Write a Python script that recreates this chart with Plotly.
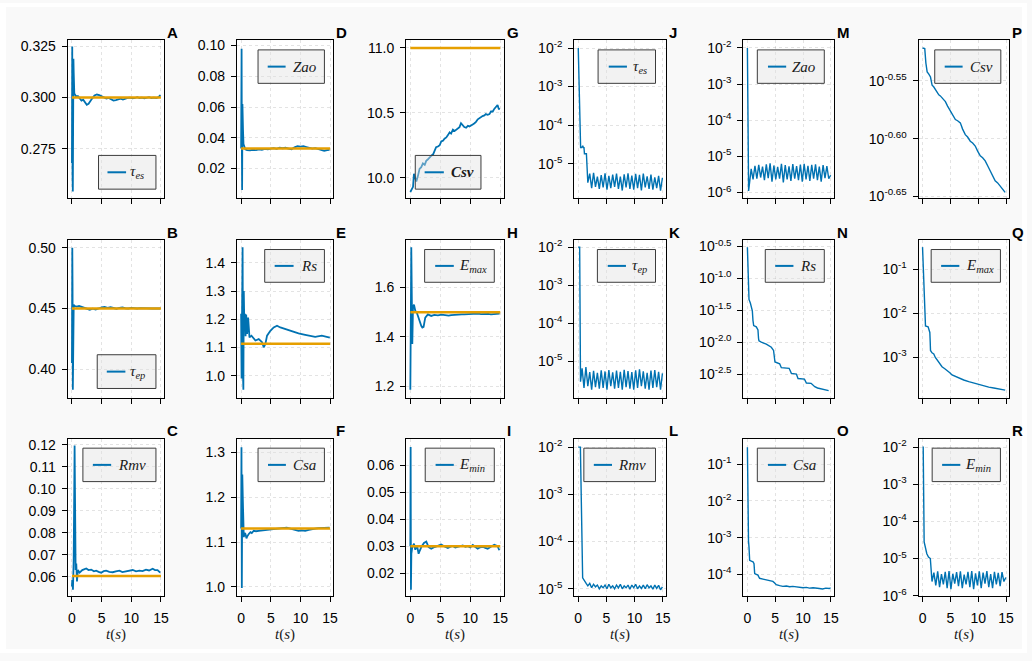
import plotly.graph_objects as go

W, H = 1032, 661
BLUE = "#0072B2"
ORANGE = "#E69F00"

# ---------------- data ----------------
t_osc = [0.68, 1.02, 1.36, 1.70, 2.04, 2.38, 2.72, 3.06, 3.40, 3.74,
         4.08, 4.42, 4.76, 5.10, 5.44, 5.78, 6.12, 6.46, 6.80, 7.14,
         7.48, 7.82, 8.16, 8.50, 8.84, 9.18, 9.52, 9.86, 10.20, 10.54,
         10.88, 11.22, 11.56, 11.90, 12.24, 12.58, 12.92, 13.26, 13.60, 13.94,
         14.28, 14.62, 14.96]

param_labels = ["<i>τ<sub>es</sub></i>", "<i>τ<sub>ep</sub></i>", "<i>Rmv</i>",
                "<i>Zao</i>", "<i>Rs</i>", "<i>Csa</i>",
                "<b><i>Csv</i></b>", "<i>E<sub>max</sub></i>", "<i>E<sub>min</sub></i>"]
err_labels = ["<i>τ<sub>es</sub></i>", "<i>τ<sub>ep</sub></i>", "<i>Rmv</i>",
              "<i>Zao</i>", "<i>Rs</i>", "<i>Csa</i>",
              "<i>Csv</i>", "<i>E<sub>max</sub></i>", "<i>E<sub>min</sub></i>"]
truth = [0.30, 0.45, 0.0603, 0.033, 1.113, 1.13, 11.0, 1.50, 0.030]
truth_t = [0, 15]

A_t = [0, 0.05, 0.1, 0.15, 0.2, 0.25, 0.3, 0.4, 0.5, 0.7,
       1.0, 1.3, 1.6, 1.9, 2.2, 2.5, 2.8, 3.1, 3.4, 3.8,
       4.2, 4.6, 5.0, 5.4, 5.8, 6.2, 6.6, 7.0, 7.4, 7.8,
       8.2, 8.6, 9.0, 9.4, 9.8, 10.2, 10.6, 11.0, 11.4, 11.8,
       12.2, 12.6, 13.0, 13.4, 13.8, 14.2, 14.6, 14.9]
A_y = [0.268, 0.325, 0.262, 0.254, 0.305, 0.319, 0.312, 0.302, 0.3015, 0.3005,
       0.3008, 0.2995, 0.2985, 0.2990, 0.2975, 0.2965, 0.2970, 0.2985, 0.2995, 0.3010,
       0.3015, 0.3012, 0.3005, 0.3000, 0.2995, 0.2998, 0.2990, 0.2985, 0.2988, 0.2992,
       0.2995, 0.2990, 0.2995, 0.2998, 0.3000, 0.2996, 0.2998, 0.3002, 0.2998, 0.3000,
       0.2996, 0.3000, 0.3002, 0.2998, 0.3000, 0.2998, 0.3002, 0.3012]

B_t = [0, 0.06, 0.1, 0.15, 0.2, 0.3, 0.5, 0.8, 1.2, 1.6,
       2.0, 2.5, 3.0, 3.5, 4.0, 4.5, 5.0, 5.5, 6.0, 6.5,
       7.0, 7.5, 8.0, 8.5, 9.0, 9.5, 10.0, 10.5, 11.0, 11.5,
       12.0, 12.5, 13.0, 13.5, 14.0, 14.5, 14.9]
B_y = [0.405, 0.500, 0.470, 0.383, 0.440, 0.453, 0.452, 0.4515, 0.452, 0.4512,
       0.4505, 0.4495, 0.4490, 0.4498, 0.4492, 0.4500, 0.4510, 0.4512, 0.4505, 0.4510,
       0.4502, 0.4498, 0.4505, 0.4508, 0.4502, 0.4500, 0.4505, 0.4502, 0.4500, 0.4503,
       0.4501, 0.4500, 0.4502, 0.4500, 0.4501, 0.4500, 0.4500]

C_t = [0, 0.05, 0.17, 0.29, 0.45, 0.55, 0.62, 0.73, 0.85, 1.01,
       1.29, 1.74, 2.1, 2.41, 2.8, 3.25, 3.7, 4.09, 4.5, 4.93,
       5.35, 5.77, 6.3, 6.88, 7.4, 8.0, 8.5, 9.12, 9.7, 10.24,
       10.8, 11.36, 11.9, 12.48, 13.0, 13.6, 14.0, 14.43, 14.88]
C_y = [0.0555, 0.0585, 0.054, 0.0674, 0.1197, 0.075, 0.063, 0.066, 0.0578, 0.063,
       0.0618, 0.063, 0.0634, 0.0637, 0.0630, 0.0632, 0.0624, 0.0627, 0.0622, 0.0618,
       0.0625, 0.0627, 0.0622, 0.0620, 0.0624, 0.0627, 0.0621, 0.0623, 0.0626, 0.0630,
       0.0624, 0.0627, 0.0625, 0.0632, 0.0628, 0.0636, 0.0630, 0.0630, 0.0618]

D_t = [0, 0.08, 0.12, 0.17, 0.22, 0.27, 0.32, 0.4, 0.5, 0.7,
       1.0, 1.5, 2.0, 2.5, 3.0, 3.5, 4.0, 4.5, 5.0, 5.5,
       6.0, 6.5, 7.0, 7.5, 8.0, 8.5, 9.0, 9.5, 10.0, 10.5,
       11.0, 11.5, 12.0, 12.5, 13.0, 13.5, 14.0, 14.5, 14.9]
D_y = [0.033, 0.098, 0.040, 0.006, 0.062, 0.058, 0.045, 0.036, 0.034, 0.0325,
       0.0320, 0.0318, 0.0322, 0.0320, 0.0325, 0.0322, 0.0328, 0.0325, 0.0330, 0.0333,
       0.0328, 0.0335, 0.0332, 0.0335, 0.0330, 0.0325, 0.0338, 0.0345, 0.0343, 0.0345,
       0.0340, 0.0335, 0.0330, 0.0332, 0.0325, 0.0318, 0.0315, 0.0320, 0.0322]

E_t = [0, 0.08, 0.15, 0.25, 0.32, 0.38, 0.45, 0.55, 0.65, 0.75,
       0.85, 1.01, 1.18, 1.41, 1.74, 2.13, 2.41, 2.97, 3.53, 3.81,
       4.09, 4.37, 4.93, 5.49, 6.05, 6.61, 7.45, 8.56, 9.68, 10.8,
       11.64, 12.48, 13.6, 14.72, 14.95]
E_y = [1.22, 0.99, 1.20, 1.455, 1.00, 0.95, 1.30, 1.17, 1.22, 1.14,
       1.217, 1.148, 1.206, 1.136, 1.142, 1.13, 1.125, 1.13, 1.119, 1.101,
       1.113, 1.142, 1.159, 1.171, 1.177, 1.171, 1.165, 1.157, 1.15, 1.145,
       1.142, 1.138, 1.142, 1.136, 1.135]

F_t = [0, 0.06, 0.12, 0.2, 0.29, 0.45, 0.6, 0.73, 0.9, 1.01,
       1.15, 1.29, 1.57, 1.8, 2.13, 2.5, 2.97, 3.5, 4.09, 4.6,
       5.2, 6.0, 6.88, 7.7, 8.56, 9.1, 9.68, 10.2, 10.8, 11.4,
       11.92, 12.5, 13.04, 13.7, 14.44, 14.9]
F_y = [1.13, 1.311, 0.998, 1.25, 1.194, 1.111, 1.12, 1.118, 1.108, 1.112,
       1.117, 1.118, 1.122, 1.120, 1.125, 1.124, 1.125, 1.126, 1.127, 1.128,
       1.129, 1.130, 1.131, 1.132, 1.129, 1.127, 1.125, 1.126, 1.125, 1.127,
       1.129, 1.130, 1.131, 1.131, 1.1325, 1.132]

G_t = [0, 0.2, 0.45, 0.6, 0.8, 1.0, 1.3, 1.55, 1.8, 2.1,
       2.4, 2.65, 2.9, 3.2, 3.5, 3.8, 4.05, 4.3, 4.6, 4.9,
       5.15, 5.45, 5.7, 6.0, 6.3, 6.55, 6.8, 7.1, 7.4, 7.65,
       7.9, 8.2, 8.45, 8.75, 9.0, 9.3, 9.6, 9.85, 10.1, 10.4,
       10.7, 10.95, 11.25, 11.5, 11.8, 12.05, 12.35, 12.6, 12.9, 13.2,
       13.45, 13.75, 14.0, 14.3, 14.55, 14.75, 14.95]
G_y = [9.89, 9.91, 9.93, 10.03, 9.99, 9.97, 10.02, 10.07, 10.08, 10.11,
       10.10, 10.13, 10.14, 10.16, 10.17, 10.18, 10.21, 10.235, 10.24, 10.25,
       10.28, 10.285, 10.30, 10.31, 10.33, 10.35, 10.34, 10.37, 10.36, 10.37,
       10.38, 10.39, 10.42, 10.40, 10.39, 10.385, 10.40, 10.395, 10.40, 10.41,
       10.42, 10.43, 10.45, 10.46, 10.47, 10.475, 10.48, 10.49, 10.485, 10.49,
       10.51, 10.51, 10.53, 10.55, 10.56, 10.53, 10.53]

H_t = [0, 0.1, 0.16, 0.25, 0.33, 0.44, 0.61, 0.83, 1.05, 1.27,
       1.55, 1.82, 2.0, 2.21, 2.35, 2.49, 2.93, 3.48, 4.0, 4.6,
       5.2, 5.8, 6.4, 6.8, 7.4, 8.0, 8.6, 9.0, 9.6, 10.2,
       10.8, 11.24, 11.8, 12.4, 13.0, 13.45, 14.0, 14.5, 14.9]
H_y = [1.187, 1.40, 1.763, 1.55, 1.372, 1.518, 1.531, 1.505, 1.50, 1.485,
       1.46, 1.445, 1.438, 1.441, 1.46, 1.478, 1.491, 1.485, 1.489, 1.487,
       1.49, 1.488, 1.486, 1.488, 1.490, 1.489, 1.491, 1.491, 1.492, 1.490,
       1.493, 1.494, 1.492, 1.494, 1.493, 1.491, 1.493, 1.494, 1.494]

I_t = [0, 0.05, 0.1, 0.17, 0.33, 0.61, 0.83, 1.11, 1.38, 1.6,
       1.83, 2.27, 2.66, 3.05, 3.49, 4.04, 4.6, 5.15, 5.7, 6.26,
       6.7, 7.09, 7.5, 7.92, 8.35, 8.75, 9.2, 9.58, 10.0, 10.41,
       10.8, 11.24, 11.65, 12.07, 12.5, 12.9, 13.5, 14.01, 14.56, 14.84]
I_y = [0.03, 0.0667, 0.0139, 0.0273, 0.0297, 0.0309, 0.0287, 0.0303, 0.0272, 0.0285,
       0.0297, 0.0312, 0.0317, 0.0297, 0.0291, 0.0297, 0.0303, 0.0306, 0.0299, 0.0293,
       0.0298, 0.0301, 0.0295, 0.0297, 0.0300, 0.0303, 0.0298, 0.0300, 0.0296, 0.0305,
       0.0298, 0.0291, 0.0296, 0.0298, 0.0294, 0.0291, 0.0299, 0.0305, 0.0300, 0.0285]

# relative errors (log panels)
J_t = [0.0, 0.42, 0.62, 0.80, 0.92, 1.02, 1.10, 1.45] + t_osc[3:]
J_y = [1.0e-2, 2.6e-5, 2.6e-5, 2.9e-5, 2.6e-5, 2.6e-5, 1.8e-5, 1.8e-5,
       3.2e-6, 5.5e-6, 2.3e-6, 5.8e-6, 2.5e-6, 4.6e-6, 2.2e-6, 5.0e-6, 2.4e-6, 5.6e-6,
       2.1e-6, 4.8e-6, 2.3e-6, 5.2e-6, 2.5e-6, 5.5e-6, 2.2e-6, 4.6e-6, 2.0e-6, 5.3e-6,
       2.4e-6, 5.6e-6, 2.2e-6, 4.9e-6, 2.1e-6, 5.4e-6, 2.3e-6, 5.1e-6, 2.0e-6, 5.5e-6,
       2.4e-6, 4.7e-6, 2.2e-6, 5.2e-6, 2.1e-6, 4.4e-6, 2.3e-6, 4.8e-6, 2.0e-6, 4.3e-6]

K_t = [0.0, 0.25, 0.40] + t_osc
K_y = [1.0e-2, 1.0e-2, 2.9e-6,
       6.5e-6, 2.0e-6, 7.0e-6, 2.2e-6, 5.2e-6, 1.8e-6, 5.6e-6, 2.1e-6, 5.0e-6, 1.9e-6,
       5.8e-6, 2.0e-6, 5.4e-6, 1.8e-6, 5.9e-6, 2.2e-6, 5.1e-6, 1.9e-6, 5.7e-6, 2.0e-6,
       5.3e-6, 1.8e-6, 6.0e-6, 2.1e-6, 5.5e-6, 1.9e-6, 5.2e-6, 1.8e-6, 5.8e-6, 2.0e-6,
       6.1e-6, 2.2e-6, 5.4e-6, 1.9e-6, 5.0e-6, 1.8e-6, 5.7e-6, 2.0e-6, 5.9e-6, 2.1e-6,
       5.3e-6, 1.8e-6, 4.8e-6]

L_t = [0.0, 0.38, 0.78, 0.95, 1.15, 1.40, 1.70] + t_osc[4:]
L_y = [1.0e-2, 1.0e-2, 1.7e-5, 1.55e-5, 1.5e-5, 1.3e-5, 1.15e-5,
       1.3e-5, 1.05e-5, 1.25e-5, 1.1e-5, 1.2e-5, 1.0e-5, 1.15e-5, 1.05e-5, 1.2e-5, 1.0e-5,
       1.25e-5, 1.05e-5, 1.15e-5, 1.0e-5, 1.2e-5, 1.05e-5, 1.25e-5, 1.0e-5, 1.15e-5, 1.05e-5,
       1.2e-5, 0.98e-5, 1.2e-5, 1.05e-5, 1.25e-5, 1.0e-5, 1.15e-5, 1.02e-5, 1.2e-5, 1.0e-5,
       1.22e-5, 1.05e-5, 1.15e-5, 0.98e-5, 1.2e-5, 1.02e-5, 1.18e-5, 0.95e-5, 1.1e-5]

M_t = [0.0, 0.22] + t_osc
M_y = [1.0e-2, 1.1e-6,
       4.5e-6, 2.3e-6, 5.5e-6, 2.4e-6, 5.8e-6, 2.6e-6, 5.2e-6, 2.2e-6, 6.0e-6, 2.5e-6,
       6.4e-6, 2.0e-6, 5.6e-6, 2.3e-6, 5.1e-6, 2.4e-6, 6.2e-6, 1.9e-6, 5.7e-6, 2.3e-6,
       5.3e-6, 2.1e-6, 6.1e-6, 2.4e-6, 5.4e-6, 2.2e-6, 5.9e-6, 2.0e-6, 6.2e-6, 2.3e-6,
       5.5e-6, 2.1e-6, 5.8e-6, 2.4e-6, 6.0e-6, 2.2e-6, 5.2e-6, 2.0e-6, 5.7e-6, 2.5e-6,
       5.4e-6, 2.4e-6, 3.0e-6]

N_t = [0, 0.29, 0.53, 0.89, 1.0, 1.13, 1.6, 1.9, 2.0, 2.08,
       2.5, 3.4, 4.3, 4.7, 4.85, 4.95, 5.8, 6.0, 6.1, 7.5,
       7.75, 7.9, 8.8, 9.0, 9.1, 10.25, 10.5, 10.6, 11.45, 12.0,
       12.1, 12.6, 13.5, 14.0, 14.6]
N_y = [0.309, 0.0468, 0.0412, 0.0309, 0.022, 0.0182, 0.0174, 0.0155, 0.0115, 0.0105,
       0.0100, 0.00933, 0.00832, 0.00741, 0.0058, 0.0049, 0.00457, 0.0042, 0.00398, 0.00389,
       0.0035, 0.00324, 0.00316, 0.0029, 0.00269, 0.00263, 0.0024, 0.00229, 0.00226, 0.00205,
       0.0020, 0.00191, 0.00182, 0.00178, 0.00174]

O_t = [0, 0.06, 0.12, 0.2, 0.29, 0.41, 0.7, 1.01, 1.19, 1.25,
       1.31, 1.6, 1.9, 2.05, 2.2, 2.8, 3.39, 4.0, 4.58, 4.9,
       5.18, 5.8, 6.37, 7.0, 7.6, 8.16, 8.8, 9.35, 10.0, 10.6,
       11.14, 11.8, 12.4, 12.93, 13.5, 14.1, 14.72, 14.95]
O_y = [0.291, 0.02, 0.00126, 0.0008, 0.00055, 0.00024, 0.00023, 0.00022, 0.000195, 0.00014,
       0.000105, 0.0001, 0.000095, 0.000085, 0.000078, 0.000074, 0.000071, 0.000067, 0.000064, 0.000058,
       0.000052, 0.000049, 0.000047, 0.000048, 0.000046, 0.000047, 0.000045, 0.000045, 0.000043, 0.000044,
       0.000042, 0.000043, 0.000041, 0.000041, 0.00004, 0.000042, 0.000041, 0.000043]

P_t = [0, 0.4, 0.6, 0.83, 1.1, 1.43, 1.6, 1.72, 2.0, 2.32,
       2.6, 2.92, 3.2, 3.51, 3.8, 4.11, 4.5, 5.0, 5.4, 5.9,
       6.3, 6.79, 7.2, 7.68, 8.1, 8.58, 9.0, 9.47, 9.9, 10.37,
       10.8, 11.26, 11.7, 12.15, 12.6, 13.05, 13.5, 13.94, 14.4, 14.84]
P_y = [0.3009, 0.3005, 0.2920, 0.2869, 0.2858, 0.2840, 0.2812, 0.2794, 0.2785, 0.2767,
       0.2758, 0.2741, 0.2735, 0.2723, 0.2716, 0.2704, 0.2680, 0.2652, 0.2630, 0.2609,
       0.2603, 0.2592, 0.2560, 0.2532, 0.2520, 0.2499, 0.2490, 0.2475, 0.2450, 0.2427,
       0.2418, 0.2403, 0.2380, 0.2356, 0.2330, 0.2310, 0.2300, 0.2287, 0.2270, 0.2257]

Q_t = [0, 0.2, 0.4, 0.53, 1.0, 1.15, 1.31, 1.38, 1.43, 1.7,
       2.02, 2.3, 2.62, 3.0, 3.5, 4.0, 4.4, 4.9, 5.3, 5.9,
       6.5, 7.4, 8.3, 9.2, 10.1, 11.0, 11.9, 12.8, 13.6, 14.2,
       14.85]
Q_y = [0.318, 0.087, 0.0155, 0.0051, 0.0049, 0.0042, 0.00363, 0.0022, 0.00141, 0.00125,
       0.00118, 0.00098, 0.00085, 0.00072, 0.0006, 0.00054, 0.0005, 0.00044, 0.00039, 0.00036,
       0.00033, 0.0003, 0.000275, 0.000255, 0.000234, 0.00022, 0.000206, 0.000197, 0.00019, 0.000184,
       0.000176]

R_t = [0.0, 0.12, 0.29, 0.45, 0.77, 1.07, 1.40] + t_osc[3:]
R_y = [1.0e-2, 1.0e-2, 2.8e-5, 2.2e-5, 1.35e-5, 1.1e-5, 1.0e-5,
       2.4e-6, 4.2e-6, 1.9e-6, 4.5e-6, 1.7e-6, 3.8e-6, 2.0e-6, 4.4e-6, 1.6e-6, 4.6e-6,
       1.5e-6, 3.9e-6, 2.1e-6, 4.3e-6, 1.8e-6, 4.5e-6, 1.6e-6, 3.7e-6, 2.0e-6, 4.4e-6,
       1.7e-6, 4.6e-6, 1.5e-6, 4.0e-6, 1.9e-6, 4.5e-6, 1.6e-6, 4.2e-6, 2.1e-6, 4.6e-6,
       1.7e-6, 3.8e-6, 1.6e-6, 4.4e-6, 2.0e-6, 4.1e-6, 1.8e-6, 4.3e-6, 2.4e-6, 3.1e-6]

for a, b in [(A_t, A_y), (B_t, B_y), (C_t, C_y), (D_t, D_y), (E_t, E_y), (F_t, F_y),
             (G_t, G_y), (H_t, H_y), (I_t, I_y), (J_t, J_y), (K_t, K_y), (L_t, L_y),
             (M_t, M_y), (N_t, N_y), (O_t, O_y), (P_t, P_y), (Q_t, Q_y), (R_t, R_y)]:
    assert len(a) == len(b), (len(a), len(b))

# ---------------- layout geometry (pixels) ----------------
cols_x = [(68, 165), (238, 335), (408, 506), (577, 669), (747, 838), (923, 1014)]
rows_y = [(38, 198), (241, 402), (443, 603)]


def sup_ticks(exps, labels):
    return dict(tickvals=[10 ** e for e in exps],
                ticktext=["10<sup>%s</sup>" % s for s in labels])


def lin(lo, hi, t0, dt, fmt):
    return dict(type="linear", range=[lo, hi], tickmode="linear", tick0=t0, dtick=dt, tickformat=fmt)


def logax(lo, hi, exps, labels):
    d = dict(type="log", range=[lo, hi], tickmode="array")
    d.update(sup_ticks(exps, labels))
    return d


panels = [
    ("A", 0, 0, A_t, A_y, 0, param_labels[0], lin(0.251, 0.328, 0.275, 0.025, ".3f"),
     (99, 156.7, 155, 189.3, 108, 126.7, 130)),
    ("B", 1, 0, B_t, B_y, 1, param_labels[1], lin(0.3759, 0.5065, 0.40, 0.05, ".2f"),
     (97.7, 156.7, 357.7, 392, 107.3, 126, 130)),
    ("C", 2, 0, C_t, C_y, 2, param_labels[2], lin(0.0512, 0.1228, 0.06, 0.01, ".2f"),
     (83.3, 156.7, 452.7, 486.7, 93.3, 111.7, 117.3)),
    ("D", 0, 1, D_t, D_y, 3, param_labels[3], lin(0.001, 0.1034, 0.02, 0.02, ".2f"),
     (259.3, 326, 47.7, 81.7, 269, 287, 293)),
    ("E", 1, 1, E_t, E_y, 4, param_labels[4], lin(0.92, 1.481, 1.0, 0.1, ".1f"),
     (266, 326, 250.7, 284, 276, 295, 301.7)),
    ("F", 2, 1, F_t, F_y, 5, param_labels[5], lin(0.980, 1.330, 1.0, 0.1, ".1f"),
     (259.3, 326, 452.7, 486.7, 269.3, 287.3, 293.3)),
    ("G", 0, 2, G_t, G_y, 6, param_labels[6], lin(9.846, 11.058, 10.0, 0.5, ".1f"),
     (417.3, 483.3, 155, 189.3, 426.7, 446, 451.7)),
    ("H", 1, 2, H_t, H_y, 7, param_labels[7], lin(1.152, 1.792, 1.2, 0.2, ".1f"),
     (426.7, 496.7, 250.7, 284, 437.3, 456, 460.7)),
    ("I", 2, 2, I_t, I_y, 8, param_labels[8], lin(0.0116, 0.0698, 0.02, 0.01, ".2f"),
     (427.3, 496.7, 452.7, 486.7, 437.7, 456, 460.7)),
    ("J", 0, 3, J_t, J_y, None, err_labels[0],
     logax(-5.885, -1.80, [-2, -3, -4, -5], ["-2", "-3", "-4", "-5"]),
     (601, 658.7, 47.7, 81.7, 611.7, 630, 635)),
    ("K", 1, 3, K_t, K_y, None, err_labels[1],
     logax(-5.974, -1.81, [-2, -3, -4, -5], ["-2", "-3", "-4", "-5"]),
     (600.3, 658.7, 250.7, 284, 610.7, 629, 634)),
    ("L", 2, 3, L_t, L_y, None, err_labels[2],
     logax(-5.152, -1.82, [-2, -3, -4, -5], ["-2", "-3", "-4", "-5"]),
     (586.7, 658.7, 452.7, 486.7, 596.7, 615, 620)),
    ("M", 0, 4, M_t, M_y, None, err_labels[3],
     logax(-6.144, -1.79, [-2, -3, -4, -5, -6], ["-2", "-3", "-4", "-5", "-6"]),
     (761, 828.3, 47.7, 81.7, 771.7, 790, 795)),
    ("N", 1, 4, N_t, N_y, None, err_labels[4],
     logax(-2.881, -0.397, [-0.5, -1.0, -1.5, -2.0, -2.5], ["-0.5", "-1.0", "-1.5", "-2.0", "-2.5"]),
     (769, 828.3, 250.7, 284, 779, 797.3, 803.3)),
    ("O", 2, 4, O_t, O_y, None, err_labels[5],
     logax(-4.59, -0.303, [-1, -2, -3, -4], ["-1", "-2", "-3", "-4"]),
     (761, 828.3, 452.7, 486.7, 771.7, 790, 796)),
    ("P", 0, 5, P_t, P_y, None, err_labels[6],
     logax(-0.6511, -0.515, [-0.55, -0.60, -0.65], ["-0.55", "-0.60", "-0.65"]),
     (939.3, 1005.7, 47.7, 81.7, 949.3, 967.3, 973.3)),
    ("Q", 1, 5, Q_t, Q_y, None, err_labels[7],
     logax(-3.94, -0.335, [-1, -2, -3], ["-1", "-2", "-3"]),
     (935.7, 1005.3, 250.7, 284, 945.7, 964, 969.3)),
    ("R", 2, 5, R_t, R_y, None, err_labels[8],
     logax(-6.008, -1.77, [-2, -3, -4, -5, -6], ["-2", "-3", "-4", "-5", "-6"]),
     (936.7, 1005.3, 452.7, 486.7, 946.7, 965, 968.3)),
]

TICKFONT = dict(family="Liberation Sans, Arial, sans-serif", size=14, color="#000000")
SERIF = "Liberation Serif, DejaVu Serif, serif"
GRID = "rgba(0,0,0,0.11)"

fig = go.Figure()
shapes = []
annotations = []
layout_axes = {}


def fx(p):
    return p / W


def fy(p):
    return 1 - p / H


for i, (letter, r, c, tt, yy, ti, lab, yax, lg) in enumerate(panels):
    n = i + 1
    xs = "x" if n == 1 else "x%d" % n
    ys = "y" if n == 1 else "y%d" % n
    x0, x1 = cols_x[c]
    y0, y1 = rows_y[r]
    is_log = yax["type"] == "log"
    layout_axes["xaxis" if n == 1 else "xaxis%d" % n] = dict(
        domain=[fx(x0), fx(x1)], anchor=ys, range=[-0.72, 15.55],
        tickmode="linear", tick0=0, dtick=5, showticklabels=(r == 2),
        ticks="outside", ticklen=5, tickwidth=1, tickcolor="#000",
        showline=True, mirror=True, linecolor="#000", linewidth=1,
        showgrid=True, gridcolor=GRID, griddash="3px,3px", gridwidth=1,
        zeroline=False, tickfont=TICKFONT, ticklabelstandoff=4,
    )
    yd = dict(
        domain=[fy(y1), fy(y0)], anchor=xs,
        ticks="outside", ticklen=5, tickwidth=1, tickcolor="#000",
        showline=True, mirror=True, linecolor="#000", linewidth=1,
        showgrid=True, gridcolor=GRID, griddash="3px,3px", gridwidth=1,
        zeroline=False, tickfont=TICKFONT, ticklabelstandoff=3,
    )
    yd.update(yax)
    layout_axes["yaxis" if n == 1 else "yaxis%d" % n] = yd

    fig.add_trace(go.Scatter(x=tt, y=yy, xaxis=xs, yaxis=ys, mode="lines",
                             line=dict(color=BLUE, width=1.4 if is_log else 1.8),
                             showlegend=False, hoverinfo="skip"))
    if ti is not None:
        fig.add_trace(go.Scatter(x=truth_t, y=[truth[ti], truth[ti]], xaxis=xs, yaxis=ys,
                                 mode="lines", line=dict(color=ORANGE, width=2.5),
                                 showlegend=False, hoverinfo="skip"))

    # legend box (translucent, the curve shows through as in the original)
    bx0, bx1, by0, by1, lx0, lx1, tx = lg
    shapes.append(dict(type="rect", xref="paper", yref="paper",
                       x0=fx(bx0), x1=fx(bx1), y0=fy(by1), y1=fy(by0),
                       fillcolor="rgba(225,225,225,0.42)", line=dict(color="#3c3c3c", width=1),
                       layer="above"))
    cy = (by0 + by1) / 2
    shapes.append(dict(type="line", xref="paper", yref="paper",
                       x0=fx(lx0), x1=fx(lx1), y0=fy(cy), y1=fy(cy),
                       line=dict(color=BLUE, width=2), layer="above"))
    annotations.append(dict(xref="paper", yref="paper", x=fx(tx - 1), y=fy(cy),
                            xanchor="left", yanchor="middle", showarrow=False, text=lab,
                            font=dict(family=SERIF, size=15, color="#1a1a1a")))
    annotations.append(dict(xref="paper", yref="paper", x=fx(x1 + 1), y=fy(y0 - 8),
                            xanchor="left", yanchor="middle", showarrow=False,
                            text="<b>%s</b>" % letter,
                            font=dict(family="Liberation Sans, Arial, sans-serif", size=15,
                                      color="#000")))
    if r == 2:
        annotations.append(dict(xref="paper", yref="paper", x=fx((x0 + x1) / 2), y=fy(642),
                                xanchor="center", yanchor="middle", showarrow=False,
                                text="<i>t</i>(<i>s</i>)",
                                font=dict(family=SERIF, size=15, color="#1a1a1a")))

# thin white frame around the light-grey figure background
for (a0, a1, b0, b1) in [(0, W, 0, 4), (0, W, 657, H), (0, 6, 0, H), (1027, W, 0, H)]:
    shapes.append(dict(type="rect", xref="paper", yref="paper",
                       x0=fx(a0), x1=fx(a1), y0=fy(b1), y1=fy(b0),
                       fillcolor="#ffffff", line=dict(width=0), layer="above"))

fig.update_layout(
    width=W, height=H, autosize=False,
    margin=dict(l=0, r=0, t=0, b=0),
    paper_bgcolor="#f9f9f9", plot_bgcolor="#ffffff",
    showlegend=False, shapes=shapes, annotations=annotations,
    **layout_axes,
)

fig.write_html("out.html", config={"displayModeBar": False},
               post_script="document.body.style.margin='0px';document.body.style.overflow='hidden';")
